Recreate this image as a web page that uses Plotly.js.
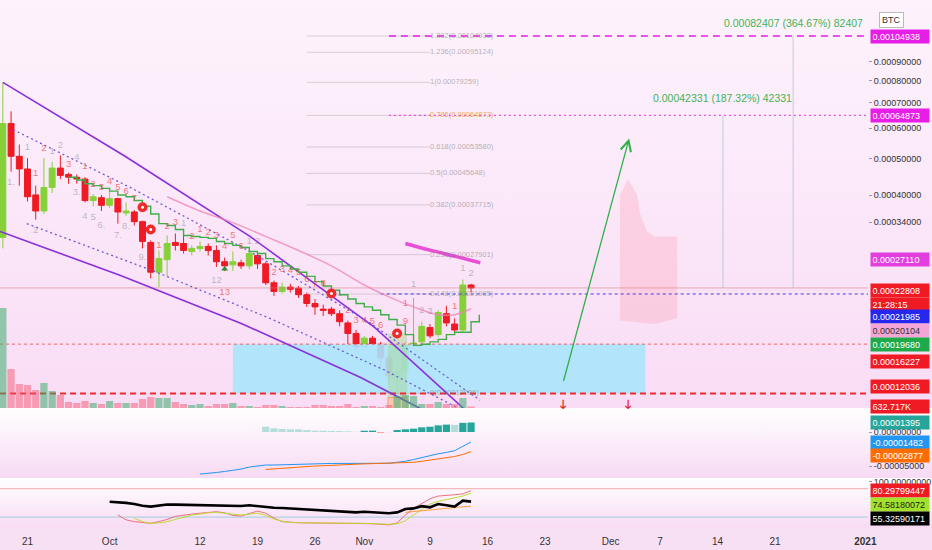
<!DOCTYPE html>
<html><head><meta charset="utf-8">
<script src="https://cdn.plot.ly/plotly-3.0.1.min.js"></script>
<style>html,body{margin:0;padding:0;background:#f8e0f4;}#chart{width:932px;height:550px;}</style>
</head><body><div id="chart"></div>
<script>
// ---------- DATA ----------
const dates = ['2020-09-18','2020-09-19','2020-09-20','2020-09-21','2020-09-22','2020-09-23','2020-09-24','2020-09-25','2020-09-26','2020-09-27','2020-09-28','2020-09-29','2020-09-30',
'2020-10-01','2020-10-02','2020-10-03','2020-10-04','2020-10-05','2020-10-06','2020-10-07','2020-10-08','2020-10-09','2020-10-10','2020-10-11','2020-10-12','2020-10-13','2020-10-14','2020-10-15','2020-10-16','2020-10-17','2020-10-18','2020-10-19','2020-10-20','2020-10-21','2020-10-22','2020-10-23','2020-10-24','2020-10-25','2020-10-26','2020-10-27','2020-10-28','2020-10-29','2020-10-30','2020-10-31',
'2020-11-01','2020-11-02','2020-11-03','2020-11-04','2020-11-05','2020-11-06','2020-11-07','2020-11-08','2020-11-09','2020-11-10','2020-11-11','2020-11-12','2020-11-13','2020-11-14'];
const opens = [0.0003098,0.0006179,0.0005064,0.0004690,0.0004007,0.0003635,0.0004193,0.0004715,0.0004536,0.0004461,0.0004412,0.0003873,0.0003940,0.0003763,0.0003918,0.0003592,0.0003614,0.0003408,0.0003005,0.0002509,0.0002707,0.0003005,0.0002986,0.0002844,0.0002898,0.0002933,0.0002862,0.0002673,0.0002623,0.0002656,0.0002607,0.0002775,0.0002639,0.0002353,0.0002233,0.0002292,0.0002278,0.0002189,0.0002075,0.0002006,0.0002006,0.0001951,0.0001845,0.0001731,0.0001598,0.0001682,0.0001621,0.0001493,0.0001328,0.0001382,0.0001610,0.0001645,0.0001794,0.0001719,0.0001951,0.0001833,0.0001768,0.0002322];
const highs = [0.00079259,0.0006652,0.0005436,0.0005008,0.0004240,0.0005008,0.0004901,0.0005092,0.0004587,0.0004536,0.0004461,0.0004030,0.0004007,0.0004077,0.0003940,0.0003829,0.0003656,0.0003428,0.0003042,0.0002862,0.0003135,0.0003172,0.0003135,0.0002951,0.0003023,0.0002986,0.0002951,0.0002741,0.0002844,0.0002707,0.0002862,0.0002809,0.0002673,0.0002384,0.0002353,0.0002338,0.0002307,0.0002218,0.0002132,0.0002061,0.0002033,0.0001992,0.0001871,0.0001768,0.0001706,0.0001706,0.0001645,0.0001527,0.0001414,0.0001645,0.0002146,0.0001858,0.0001833,0.0001992,0.0002047,0.0001897,0.0002400,0.0002338];
const lows = [0.0002898,0.0004613,0.0004240,0.0003851,0.0003449,0.0003571,0.0004054,0.0004412,0.0004289,0.0004289,0.0003829,0.0003741,0.0003635,0.0003699,0.0003367,0.0003530,0.0003328,0.0002898,0.0002415,0.0002292,0.0002446,0.0002862,0.0002809,0.0002775,0.0002844,0.0002775,0.0002590,0.0002526,0.0002526,0.0002558,0.0002558,0.0002558,0.0002322,0.0002174,0.0002204,0.0002218,0.0002146,0.0002033,0.0001938,0.0001924,0.0001924,0.0001807,0.0001610,0.0001562,0.0001586,0.0001610,0.0001382,0.0001266,0.00012036,0.0001361,0.0001586,0.0001621,0.0001682,0.0001694,0.0001807,0.0001743,0.0001743,0.0002218];
const closes = [0.0006179,0.0005064,0.0004690,0.0003962,0.0003635,0.0004193,0.0004715,0.0004511,0.0004461,0.0004412,0.0003873,0.0003962,0.0003763,0.0003918,0.0003614,0.0003635,0.0003408,0.0003023,0.0002509,0.0002724,0.0002986,0.0002951,0.0002862,0.0002898,0.0002933,0.0002862,0.0002673,0.0002607,0.0002673,0.0002607,0.0002809,0.0002639,0.0002353,0.0002233,0.0002292,0.0002263,0.0002189,0.0002075,0.0002033,0.0001992,0.0001951,0.0001858,0.0001731,0.0001598,0.0001682,0.0001621,0.0001493,0.0001339,0.0001371,0.0001610,0.0001633,0.0001807,0.0001706,0.0001965,0.0001845,0.0001768,0.0002322,0.00022808];
const volumesK = [42200,16460,10130,9710,7600,10550,7170,5490,2530,2110,2950,2110,1690,2950,2110,2110,2110,3800,4640,4220,4220,2530,1690,1270,1690,840,1690,1690,2110,840,840,420,1270,1270,840,420,420,420,1270,1270,840,840,1690,420,840,840,420,1270,5060,5490,5060,1690,1690,2530,1690,1690,4220,632.717];

// stepped trend line (Sep 26 .. Nov 15)
const stepDates = dates.slice(8).concat(['2020-11-15']);
const stepValues = [0.0004461,0.0004387,0.0004289,0.0004240,0.0004170,0.0004100,0.0004007,0.0003962,0.0003873,0.0003741,0.0003571,0.0003367,0.0003328,0.0003250,0.0003135,0.0003116,0.0003098,0.0003079,0.0003023,0.0002986,0.0002951,0.0002915,0.0002844,0.0002809,0.0002724,0.0002673,0.0002607,0.0002558,0.0002509,0.0002446,0.0002369,0.0002307,0.0002248,0.0002189,0.0002132,0.0002075,0.0002033,0.0001992,0.0001938,0.0001884,0.0001820,0.0001719,0.0001610,0.0001621,0.0001645,0.0001670,0.0001719,0.0001743,0.0001743,0.0001858,0.0001938];
// pink moving average
const maDates = ['2020-10-08','2020-10-12','2020-10-16','2020-10-20','2020-10-24','2020-10-28','2020-11-01','2020-11-04','2020-11-07','2020-11-10','2020-11-12','2020-11-14'];
const maValues = [0.0003962,0.0003635,0.0003387,0.0003116,0.0002862,0.0002607,0.0002322,0.0002160,0.0002033,0.0001940,0.0001940,0.00020104];
// magenta arc
const arcDates = ['2020-11-06','2020-11-09','2020-11-12 08:00','2020-11-15 03:00'];
const arcValues = [0.0002986,0.0002867,0.0002753,0.0002656];
// channel lines
const chUpperDates = ['2020-09-18','2020-10-02 21:00','2020-10-18 02:00','2020-11-02 07:00','2020-11-17 04:00'];
const chUpperValues = [0.00079259,0.0005064,0.0003116,0.0001794,0.0000913];
const chLowerDates = ['2020-09-17 16:00','2020-10-02 06:00','2020-10-16 21:00','2020-10-31 12:00','2020-11-13 21:00'];
const chLowerValues = [0.0003211,0.0002462,0.0001845,0.0001328,0.0000939];
const dotUpperDates = ['2020-09-19 06:00','2020-10-03 12:00','2020-10-18 02:00','2020-11-01 17:00','2020-11-15 02:00'];
const dotUpperValues = [0.000595,0.0004193,0.0002844,0.0001845,0.0001155];
const dotLowerDates = ['2020-09-20 22:00','2020-10-05 22:00','2020-10-20 12:00','2020-11-03 12:00','2020-11-15 17:00'];
const dotLowerValues = [0.0003367,0.0002548,0.0001897,0.0001385,0.0001012];
// fibonacci
const fibLevels = ['0','0.148','0.236','0.382','0.5','0.618','0.786','1','1.236','1.382'];
const fibPrices = [0.00012036,0.00021985,0.00027901,0.00037715,0.00045648,0.00053580,0.00064873,0.00079259,0.00095124,0.00104938];
const fibStart = '2020-10-25', fibEnd = '2020-11-09';
// zones
const zoneDates = ['2020-10-16','2020-12-05 05:00'];
const zonePrices = [0.00012036,0.00016227];
const ghostDates = ['2020-12-02 03:00','2020-12-02 03:00','2020-12-03 03:00','2020-12-04 05:00','2020-12-04 14:00','2020-12-05 10:00','2020-12-06 09:00','2020-12-09 02:00','2020-12-09 02:00','2020-12-06 09:00','2020-12-02 03:00'];
const ghostPrices = [0.0001871,0.0004007,0.0004412,0.0004007,0.0003571,0.0003211,0.0003116,0.0003116,0.0001897,0.0001833,0.0001871];
const setupDates = ['2020-11-03 21:00','2020-11-06 05:00'];
const setupGreen = [0.0001174,0.0001731];
const setupOrange = [0.0001085,0.0001174];
// target / projection
const arrowTail = {date:'2020-11-25 05:00', price:0.0001286};
const arrowHead = {date:'2020-12-03 06:00', price:0.0005643};
const measureDates = ['2020-12-14 16:00','2020-12-23 05:00'];
const measureFrom = [0.00022808,0.00022808];
const measureTo = [0.00064873,0.00104938];
const measureTexts = ['0.00042331 (187.32%) 42331','0.00082407 (364.67%) 82407'];
const downArrowDates = ['2020-11-25 05:00','2020-12-03 03:00'];
// count labels
const redLabelDates = ['2020-09-23','2020-09-26','2020-09-28','2020-09-22','2020-09-29','2020-09-30','2020-10-01','2020-10-02','2020-10-03','2020-10-04','2020-10-07','2020-10-08','2020-10-09','2020-10-11','2020-10-12','2020-10-13','2020-10-14','2020-10-15','2020-10-16','2020-10-17','2020-10-15','2020-10-21','2020-10-22','2020-10-23','2020-10-24','2020-10-25','2020-10-26','2020-10-27','2020-10-30','2020-10-31','2020-11-01','2020-11-02','2020-11-03','2020-11-06','2020-11-06','2020-11-12'];
const redLabelPrices = [0.000532,0.0004821,0.0004768,0.0004562,0.0004264,0.0004193,0.0004338,0.0004193,0.00041,0.0003918,0.0002951,0.0003308,0.0003387,0.0003116,0.000325,0.0003191,0.0003135,0.0002933,0.0003135,0.0002933,0.0002218,0.0002509,0.0002542,0.0002526,0.0002509,0.00024,0.0002322,0.0002338,0.0001992,0.0001871,0.0001871,0.0001858,0.000182,0.0001858,0.0002075,0.0002040];
const redLabelTexts = ['2','3','1','1','2','3','4','5','6','7','1','2','3','2','1','2','3','4','5','6','13','2','3','4','5','6','7','8','2','3','4','5','6','9','1','1'];
const grayLabelDates = ['2020-09-21','2020-09-24','2020-09-25','2020-09-27','2020-09-19','2020-09-22','2020-09-27','2020-09-28','2020-09-29','2020-09-30','2020-10-02','2020-10-03','2020-10-05','2020-10-10','2020-10-14','2020-10-18','2020-10-19','2020-10-29','2020-11-07','2020-11-08','2020-11-09','2020-11-13','2020-11-14'];
const grayLabelPrices = [0.000535,0.0005205,0.0005406,0.0005036,0.0004314,0.000323,0.0004054,0.000351,0.000349,0.0003328,0.0003135,0.0003308,0.0002741,0.0003367,0.0002384,0.0003023,0.0003023,0.0002204,0.0002322,0.0001992,0.0001978,0.0002558,0.0002493];
const grayLabelTexts = ['1','1','2','4','1.','2','3.','4','5','6.','7.','8.','9.','1','12','1','2','1','1','2','3','1','2'];
const dotDates = ['2020-10-05','2020-10-06','2020-10-28','2020-11-05'];
const dotPrices = [0.000372,0.000325,0.0002204,0.0001731];
// MACD
const macdValues = [-6.18e-5,-6.10e-5,-5.95e-5,-5.80e-5,-5.65e-5,-5.45e-5,-5.15e-5,-4.95e-5,-4.85e-5,-4.85e-5,-4.80e-5,-4.75e-5,-4.72e-5,-4.70e-5,-4.70e-5,-4.65e-5,-4.62e-5,-4.60e-5,-4.60e-5,-4.60e-5,-4.55e-5,-4.55e-5,-4.60e-5,-4.60e-5,-4.50e-5,-4.30e-5,-4.05e-5,-3.75e-5,-3.50e-5,-3.20e-5,-3.00e-5,-2.75e-5,-2.10e-5,-1.482e-5];
const signalValues = [-5.50e-5,-5.40e-5,-5.30e-5,-5.20e-5,-5.10e-5,-5.05e-5,-5.00e-5,-4.95e-5,-4.88e-5,-4.82e-5,-4.77e-5,-4.72e-5,-4.68e-5,-4.65e-5,-4.63e-5,-4.62e-5,-4.60e-5,-4.55e-5,-4.45e-5,-4.30e-5,-4.15e-5,-3.98e-5,-3.80e-5,-3.60e-5,-3.30e-5,-2.877e-5];
const histValues = [7.8e-6,5.4e-6,4.4e-6,4.0e-6,3.9e-6,2.9e-6,1.9e-6,1.8e-6,1.5e-6,1.4e-6,1.0e-6,0.4e-6,1.9e-6,2.0e-6,-0.7e-6,-0.4e-6,2.9e-6,4.0e-6,4.9e-6,6.9e-6,7.8e-6,9.8e-6,10.9e-6,10.5e-6,13.5e-6,13.95e-6];
// oscillator pane
const oscBlack = [55.2,54.5,52.5,50,46,44,46,49,48.5,48,48,47.5,47,46,45.5,45.5,45.5,47,45,42.5,41.5,41,40,38.5,38,37,36,35,34,33,31,32.5,31,29.5,29,31,38.5,40,45,42.5,50,47,44,57.5,55.3259];
const oscRed = [25,14,10,8,6,10,15,22,25,27,29,31,32.5,30,24,22.5,29,34,29,18,10,8,7.5,7,6.5,6,6,6,6,6,6,5,4,2.5,7,25,40,52,62,68,69,71,73,80.298];
const oscLime = [17.5,10,6,7,9.8,15,20,25,27,30,31,29,26,25,27,29,24,16,11,8,7.5,7.5,7,7,7,6.5,6.5,6,6,5.5,4.5,4,5,12,25,38,50,56,60,64,68,74.5818];
const oscOrange = [31,32.5,34,36,38,40,42,43.5,45];
// axis ticks
const priceTicks = [0.0009,0.0008,0.0007,0.0006,0.0005,0.0004,0.00034];
const dateTicks = ['2020-09-21','2020-10-01','2020-10-12','2020-10-19','2020-10-26','2020-11-01','2020-11-09','2020-11-16','2020-11-23','2020-12-01','2020-12-07','2020-12-14','2020-12-21','2021-01-01'];
const dateTickText = ['21','Oct','12','19','26','Nov','9','16','23','Dec','7','14','21','<b>2021</b>'];
const xStart = '2020-09-17 15:38', xEnd = '2021-01-01 07:48';

// ---------- BUILD ----------
const GREEN='#86d13a', RED='#ef1a24';
const traces = [];
function hline(price, x0, x1, color, width, dash){
  traces.push({type:'scatter',mode:'lines',x:[x0,x1],y:[price,price],xaxis:'x',yaxis:'y',line:{color:color,width:width,dash:dash},hoverinfo:'skip'});
}
function poly(xs, ys, fill, lineColor){
  traces.push({type:'scatter',mode:'lines',x:xs,y:ys,fill:'toself',fillcolor:fill,line:{color:lineColor||'rgba(0,0,0,0)',width:lineColor?1:0},xaxis:'x',yaxis:'y',hoverinfo:'skip'});
}
poly([zoneDates[0],zoneDates[1],zoneDates[1],zoneDates[0],zoneDates[0]],[zonePrices[0],zonePrices[0],zonePrices[1],zonePrices[1],zonePrices[0]],'rgba(170,228,252,0.9)');
poly(ghostDates, ghostPrices, 'rgba(255,150,170,0.28)');
poly([setupDates[0],setupDates[1],setupDates[1],setupDates[0],setupDates[0]],[setupGreen[0],setupGreen[0],setupGreen[1],setupGreen[1],setupGreen[0]],'rgba(165,215,140,0.45)');
poly([setupDates[0],setupDates[1],setupDates[1],setupDates[0],setupDates[0]],[setupOrange[0],setupOrange[0],setupOrange[1],setupOrange[1],setupOrange[0]],'rgba(250,190,150,0.7)','rgba(240,150,90,0.8)');
const fx=[], fy=[];
fibPrices.forEach(p=>{fx.push(fibStart,fibEnd,null);fy.push(p,p,null);});
traces.push({type:'scatter',mode:'lines',x:fx,y:fy,line:{color:'rgba(150,150,150,0.35)',width:1},xaxis:'x',yaxis:'y',hoverinfo:'skip'});
hline(0.00022808, xStart, xEnd, 'rgba(215,120,120,0.55)', 1, 'solid');
hline(0.00016227, xStart, xEnd, 'rgba(240,60,60,0.75)', 1, '3px,3px');
hline(0.00012036, xStart, xEnd, '#ee2a2e', 2, '6px,4px');
hline(0.00021985, '2020-11-03', xEnd, '#3b3bea', 1, '3px,3px');
hline(0.00104938, '2020-11-04', xEnd, '#e61ee6', 1.5, '7px,5px');
hline(0.00064873, '2020-11-04', xEnd, '#e84ee4', 1.2, '2px,3px');
measureDates.forEach((d,i)=>{
  traces.push({type:'scatter',mode:'lines',x:[d,d],y:[measureFrom[i],measureTo[i]],line:{color:'rgba(170,190,205,0.7)',width:1},xaxis:'x',yaxis:'y',hoverinfo:'skip'});
});
traces.push({type:'scatter',mode:'lines',x:chUpperDates,y:chUpperValues,line:{color:'#8a2fdc',width:1.6},xaxis:'x',yaxis:'y',hoverinfo:'skip'});
traces.push({type:'scatter',mode:'lines',x:chLowerDates,y:chLowerValues,line:{color:'#8a2fdc',width:1.6},xaxis:'x',yaxis:'y',hoverinfo:'skip'});
traces.push({type:'scatter',mode:'lines',x:dotUpperDates,y:dotUpperValues,line:{color:'#6d5ad8',width:1.3,dash:'2px,3px'},xaxis:'x',yaxis:'y',hoverinfo:'skip'});
traces.push({type:'scatter',mode:'lines',x:dotLowerDates,y:dotLowerValues,line:{color:'#6d5ad8',width:1.3,dash:'2px,3px'},xaxis:'x',yaxis:'y',hoverinfo:'skip'});
traces.push({type:'scatter',mode:'lines',x:maDates,y:maValues,line:{color:'rgba(240,130,180,0.75)',width:1.5,shape:'spline'},xaxis:'x',yaxis:'y',hoverinfo:'skip'});
traces.push({type:'scatter',mode:'lines',x:arcDates,y:arcValues,line:{color:'#e64fd6',width:3.5,shape:'spline'},xaxis:'x',yaxis:'y',hoverinfo:'skip'});
traces.push({type:'scatter',mode:'lines',x:stepDates,y:stepValues,line:{color:'#3fae49',width:1.4,shape:'hv'},xaxis:'x',yaxis:'y',hoverinfo:'skip'});
traces.push({type:'candlestick',x:dates,open:opens,high:highs,low:lows,close:closes,xaxis:'x',yaxis:'y',
  increasing:{line:{color:GREEN,width:1},fillcolor:GREEN},decreasing:{line:{color:RED,width:1},fillcolor:RED},hoverinfo:'skip'});
traces.push({type:'scatter',mode:'markers',x:dotDates,y:dotPrices,marker:{color:'#ef2b2b',size:10,line:{width:0}},xaxis:'x',yaxis:'y',hoverinfo:'skip'});
traces.push({type:'scatter',mode:'markers',x:dotDates,y:dotPrices,marker:{color:'#ffffff',size:3},xaxis:'x',yaxis:'y',hoverinfo:'skip'});
traces.push({type:'scatter',mode:'markers',x:['2020-10-15'],y:[0.0002558],marker:{color:'#2e8b3e',size:6,symbol:'triangle-up'},xaxis:'x',yaxis:'y',hoverinfo:'skip'});
traces.push({type:'scatter',mode:'text',x:redLabelDates,y:redLabelPrices,text:redLabelTexts,textfont:{size:9.5,color:'rgba(236,70,70,0.72)'},xaxis:'x',yaxis:'y',hoverinfo:'skip'});
traces.push({type:'scatter',mode:'text',x:grayLabelDates,y:grayLabelPrices,text:grayLabelTexts,textfont:{size:9.5,color:'rgba(130,130,130,0.5)'},xaxis:'x',yaxis:'y',hoverinfo:'skip'});
traces.push({type:'scatter',mode:'text',x:fibPrices.map(()=>fibEnd),y:fibPrices,text:fibLevels.map((l,i)=>l+'('+fibPrices[i].toFixed(8)+')'),
  textposition:'middle right',textfont:{size:7.5,color:fibLevels.map(l=>l==='0.786'?'rgba(240,150,50,0.85)':'rgba(120,120,120,0.55)')},xaxis:'x',yaxis:'y',hoverinfo:'skip',cliponaxis:false});
traces.push({type:'bar',x:dates,y:volumesK,xaxis:'x',yaxis:'y4',marker:{color:dates.map((d,i)=>closes[i]>=opens[i]?'rgba(60,175,110,0.55)':'rgba(245,90,115,0.5)'),line:{width:0}},hoverinfo:'skip'});
const histColors = histValues.map((v,i)=>{const p=i>0?histValues[i-1]:null; if(v>=0) return (p!==null&&v>p)?'#26a69a':'#b2dfdb'; return (p!==null&&v>p)?'#ffcdd2':'#ff5252';});
traces.push({type:'bar',x:dates.slice(32),y:histValues,xaxis:'x',yaxis:'y2',marker:{color:histColors,line:{width:0}},hoverinfo:'skip'});
traces.push({type:'scatter',mode:'lines',x:dates.slice(24),y:macdValues,xaxis:'x',yaxis:'y2',line:{color:'#2196f3',width:1},hoverinfo:'skip'});
traces.push({type:'scatter',mode:'lines',x:dates.slice(32),y:signalValues,xaxis:'x',yaxis:'y2',line:{color:'#ff6d00',width:1},hoverinfo:'skip'});
traces.push({type:'scatter',mode:'lines',x:[xStart,xEnd],y:[85,85],xaxis:'x',yaxis:'y3',line:{color:'rgba(240,160,160,0.7)',width:1.2},hoverinfo:'skip'});
traces.push({type:'scatter',mode:'lines',x:[xStart,xEnd],y:[20,20],xaxis:'x',yaxis:'y3',line:{color:'rgba(160,205,220,0.8)',width:1.2},hoverinfo:'skip'});
traces.push({type:'scatter',mode:'lines',x:dates.slice(14),y:oscRed,xaxis:'x',yaxis:'y3',line:{color:'rgba(240,90,100,0.85)',width:1},hoverinfo:'skip'});
traces.push({type:'scatter',mode:'lines',x:dates.slice(16),y:oscLime,xaxis:'x',yaxis:'y3',line:{color:'rgba(185,220,40,0.95)',width:1},hoverinfo:'skip'});
traces.push({type:'scatter',mode:'lines',x:dates.slice(49),y:oscOrange,xaxis:'x',yaxis:'y3',line:{color:'rgba(255,150,40,0.9)',width:1},hoverinfo:'skip'});
traces.push({type:'scatter',mode:'lines',x:dates.slice(13),y:oscBlack,xaxis:'x',yaxis:'y3',line:{color:'#000000',width:2.6},hoverinfo:'skip'});

// ---------- ANNOTATIONS ----------
const L = Math.log10;
const ann = [];
function axLabel(yref, yv, text, bg, fg, yshift){
  ann.push({xref:'paper',x:1.0023,xanchor:'left',yref:yref,y:yv,yanchor:'middle',yshift:yshift||0,text:text,showarrow:false,
    font:{size:9,color:fg||'#ffffff'},bgcolor:bg,borderpad:1.5,width:55,align:'left'});
}
axLabel('y', L(0.00104938), '0.00104938', '#e61ee6');
axLabel('y', L(0.00064873), '0.00064873', '#e61ee6');
axLabel('y', L(0.00027110), '0.00027110', '#e23ee0');
axLabel('y', L(0.00022808), '0.00022808', '#ef1a24', '#ffffff', -3);
axLabel('y', L(0.00022808), '21:28:15', '#ef1a24', '#ffffff', -16.5);
axLabel('y', L(0.00021985), '0.00021985', '#2626ee', '#ffffff', -23);
axLabel('y', L(0.00020104), '0.00020104', '#f4a6d6', '#333333', -22);
axLabel('y', L(0.00019680), '0.00019680', '#1faa4a', '#ffffff', -32);
axLabel('y', L(0.00016227), '0.00016227', '#ef1a24', '#ffffff', -17.5);
axLabel('y', L(0.00012036), '0.00012036', '#ef1a24', '#ffffff', 7);
axLabel('y4', 632.717, '632.717K', '#ef1a24', '#ffffff', 0);
axLabel('y2', 0.00001395, '0.00001395', '#26a69a');
axLabel('y2', -0.00001482, '-0.00001482', '#2196f3');
axLabel('y2', -0.00002877, '-0.00002877', '#ff6d00', '#ffffff', -4);
axLabel('y3', 80.29799447, '80.29799447', '#ef1a24');
axLabel('y3', 74.58180072, '74.58180072', '#a3e22c', '#222222', -11);
axLabel('y3', 55.32590171, '55.32590171', '#000000', '#ffffff', -16.5);
ann.push({xref:'paper',yref:'paper',x:1.0415,y:0.977,text:'BTC',showarrow:false,font:{size:9,color:'#333'},bgcolor:'#ffffff',bordercolor:'#bbbbbb',borderwidth:1,borderpad:2});
ann.push({xref:'x',yref:'y',x:measureDates[0],y:L(measureTo[0]),yanchor:'bottom',yshift:9,text:measureTexts[0],showarrow:false,font:{size:10.5,color:'#3fb353'}});
ann.push({xref:'x',yref:'y',x:measureDates[1],y:L(measureTo[1]),yanchor:'bottom',yshift:5,text:measureTexts[1],showarrow:false,font:{size:10.5,color:'#3fb353'}});
ann.push({xref:'x',yref:'y',x:arrowHead.date,y:L(arrowHead.price),axref:'x',ayref:'y',ax:arrowTail.date,ay:L(arrowTail.price),
  text:'',showarrow:true,arrowhead:5,arrowsize:1.6,arrowwidth:1.3,arrowcolor:'#2fb14a'});
downArrowDates.forEach(d=>{
  ann.push({xref:'x',yref:'y',x:d,y:L(0.00012036),yshift:-12,text:'<b>🡓</b>',showarrow:false,font:{size:12,color:'#ee1c24',family:'DejaVu Sans, sans-serif'}});
});

// ---------- BACKGROUND ----------
function grad(c1,c2){
  const svg = '<svg xmlns="http://www.w3.org/2000/svg" width="10" height="100" viewBox="0 0 10 100" preserveAspectRatio="none"><defs><linearGradient id="g" x1="0" y1="0" x2="0" y2="1"><stop offset="0" stop-color="'+c1+'"/><stop offset="1" stop-color="'+c2+'"/></linearGradient></defs><rect width="10" height="100" fill="url(#g)"/></svg>';
  return 'data:image/svg+xml;charset=utf-8,'+encodeURIComponent(svg);
}
const PW = 932/868;
const images = [
  {source:grad('#fdf3fc','#f9dcf5'),xref:'paper',yref:'paper',x:0,y:1,sizex:PW,sizey:408/528,xanchor:'left',yanchor:'top',sizing:'stretch',layer:'below'},
  {source:grad('#ffffff','#f7daf3'),xref:'paper',yref:'paper',x:0,y:120/528,sizex:PW,sizey:70/528,xanchor:'left',yanchor:'top',sizing:'stretch',layer:'below'},
  {source:grad('#ffffff','#f8dcf4'),xref:'paper',yref:'paper',x:0,y:50/528,sizex:PW,sizey:50/528,xanchor:'left',yanchor:'top',sizing:'stretch',layer:'below'}
];

const tickFont = {size:9,color:'#333333'};
const layout = {
  width:932,height:550,margin:{l:0,r:64,t:0,b:22},
  paper_bgcolor:'#f8e0f4',plot_bgcolor:'rgba(0,0,0,0)',
  font:{family:'Liberation Sans, Arial, sans-serif'},
  showlegend:false,hovermode:false,barmode:'overlay',bargap:0.12,boxgap:0.2,boxgroupgap:0.1,
  images:images,annotations:ann,
  xaxis:{type:'date',range:[xStart,xEnd],anchor:'y3',tickvals:dateTicks,ticktext:dateTickText,showgrid:false,zeroline:false,showline:false,
    ticks:'outside',ticklen:4,tickcolor:'rgba(0,0,0,0)',tickfont:{size:10,color:'#333'},rangeslider:{visible:false},fixedrange:true},
  yaxis:{type:'log',domain:[120/528,1],range:[-3.95789,-2.88421],side:'right',anchor:'x',tickvals:priceTicks,ticktext:priceTicks.map(v=>v.toFixed(8)),
    showgrid:false,zeroline:false,ticks:'outside',ticklen:3,tickcolor:'#9a9a9a',tickfont:tickFont},
  yaxis4:{overlaying:'y',range:[0,172176],visible:false,showgrid:false,zeroline:false},
  yaxis2:{domain:[50/528,120/528],range:[-6.76e-5,3.53e-5],side:'right',anchor:'x',tickvals:[0,-0.00005],ticktext:['0.00000000','-0.00005000'],
    showgrid:false,zeroline:false,ticks:'outside',ticklen:3,tickcolor:'#9a9a9a',tickfont:tickFont},
  yaxis3:{domain:[0,50/528],range:[-4.5,109],side:'right',anchor:'x',tickvals:[100],ticktext:['100.00000000'],
    showgrid:false,zeroline:false,ticks:'outside',ticklen:3,tickcolor:'#9a9a9a',tickfont:tickFont}
};
Plotly.newPlot('chart',traces,layout,{staticPlot:true,displayModeBar:false});
</script></body></html>
